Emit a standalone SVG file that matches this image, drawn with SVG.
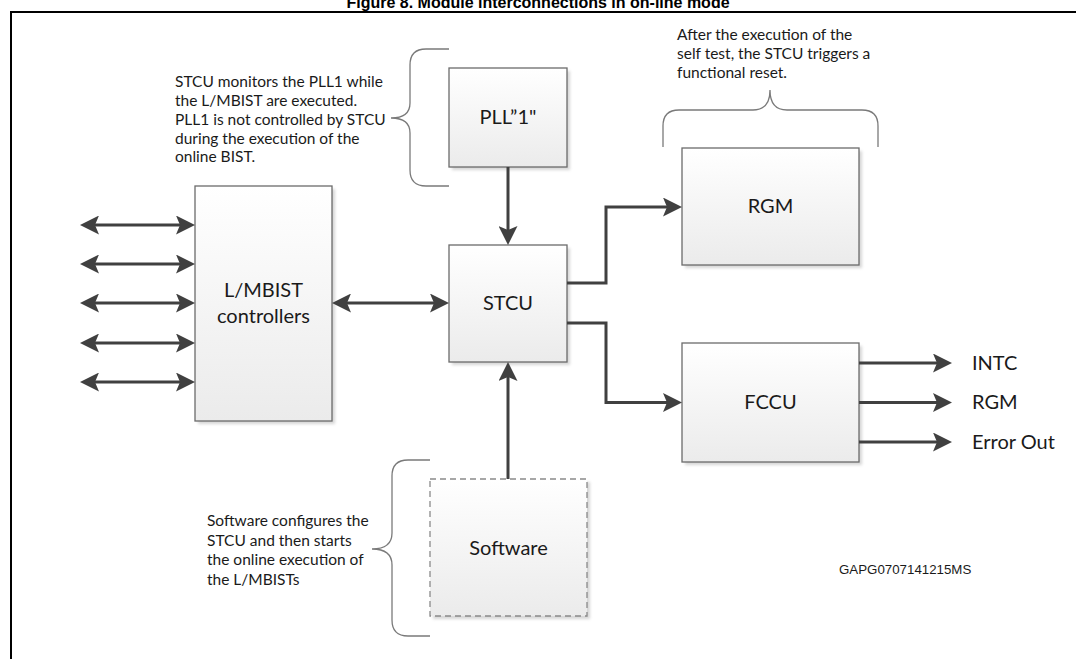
<svg xmlns="http://www.w3.org/2000/svg" width="1076" height="659" viewBox="0 0 1076 659">
  <defs>
    <linearGradient id="boxFill" x1="0" y1="0" x2="0" y2="1">
      <stop offset="0" stop-color="#ffffff"/>
      <stop offset="1" stop-color="#ebebeb"/>
    </linearGradient>
    <filter id="soft" x="-10%" y="-10%" width="130%" height="130%">
      <feGaussianBlur stdDeviation="1.5"/>
    </filter>
    <marker id="ah" markerUnits="userSpaceOnUse" markerWidth="19" markerHeight="19" viewBox="0 0 19 19" refX="15" refY="9.5" orient="auto-start-reverse">
      <path d="M0,0 L19,9.5 L0,19 L4,9.5 Z" fill="#404040"/>
    </marker>
  </defs>
  <style>
    .title { font-family: "Liberation Sans", Arial, sans-serif; font-weight: bold; font-size: 16px; fill: #000; }
    .note { font-family: Lato, "Liberation Sans", sans-serif; font-size: 15.5px; fill: #1a1a1a; }
    .lbl { font-family: Lato, "Liberation Sans", sans-serif; font-size: 20px; fill: #1a1a1a; }
    .mid { text-anchor: middle; }
    .code { font-family: "Liberation Sans", Arial, sans-serif; font-size: 13.3px; fill: #1a1a1a; }
    .box { fill: url(#boxFill); stroke: #6b6b6b; stroke-width: 1.3; }
    .dash { stroke-dasharray: 6 4; stroke: #8a8a8a; }
    .shadow { fill: #d6d6d6; filter: url(#soft); }
    .brace { fill: none; stroke: #7a7a7a; stroke-width: 1.3; }
    .wire { fill: none; stroke: #404040; stroke-width: 3; stroke-linejoin: miter; }
    .one { marker-end: url(#ah); }
    .two { marker-start: url(#ah); marker-end: url(#ah); }
  </style>

  <rect width="1076" height="659" fill="#ffffff"/>

  <!-- figure title and frame -->
  <text class="title mid" x="538" y="8">Figure 8. Module interconnections in on-line mode</text>
  <path d="M11,659 V12 H1076" fill="none" stroke="#000" stroke-width="2"/>

  <!-- annotations -->
  <g id="note-pll">
    <text class="note" x="175" y="87">STCU monitors the PLL1 while</text>
    <text class="note" x="175" y="106">the L/MBIST are executed.</text>
    <text class="note" x="175" y="125">PLL1 is not controlled by STCU</text>
    <text class="note" x="175" y="144">during the execution of the</text>
    <text class="note" x="175" y="162">online BIST.</text>
    <path class="brace" d="M449,49 H426 Q410,49 410,65 V103 Q410,118 391,118 Q410,118 410,133 V170 Q410,186 426,186 H449"/>
  </g>
  <g id="note-rgm">
    <text class="note" x="677" y="40">After the execution of the</text>
    <text class="note" x="677" y="59">self test, the STCU triggers a</text>
    <text class="note" x="677" y="78">functional reset.</text>
    <path class="brace" d="M663,147 V126 Q663,110 679,110 H753 Q770,110 770,90 Q770,110 787,110 H862 Q878,110 878,126 V147"/>
  </g>
  <g id="note-sw">
    <text class="note" x="207" y="526">Software configures the</text>
    <text class="note" x="207" y="546">STCU and then starts</text>
    <text class="note" x="207" y="565">the online execution of</text>
    <text class="note" x="207" y="585">the L/MBISTs</text>
    <path class="brace" d="M430,460 H408 Q392,460 392,476 V533 Q392,549 372,549 Q392,549 392,565 V620 Q392,636 408,636 H430"/>
  </g>

  <!-- blocks -->
  <g id="pll">
    <rect class="shadow" x="452" y="71" width="118" height="99"/>
    <rect class="box" x="449" y="68" width="118" height="99"/>
    <text class="lbl mid" x="508" y="124">PLL”1"</text>
  </g>
  <g id="stcu">
    <rect class="shadow" x="452" y="248" width="118" height="117"/>
    <rect class="box" x="449" y="245" width="118" height="117"/>
    <text class="lbl mid" x="508" y="310">STCU</text>
  </g>
  <g id="lmbist">
    <rect class="shadow" x="198" y="189" width="137" height="235"/>
    <rect class="box" x="195" y="186" width="137" height="235"/>
    <text class="lbl mid" x="263.5" y="297">L/MBIST</text>
    <text class="lbl mid" x="263.5" y="323">controllers</text>
  </g>
  <g id="rgm">
    <rect class="shadow" x="685" y="151" width="177" height="117"/>
    <rect class="box" x="682" y="148" width="177" height="117"/>
    <text class="lbl mid" x="770.5" y="213">RGM</text>
  </g>
  <g id="fccu">
    <rect class="shadow" x="685" y="346" width="177" height="119"/>
    <rect class="box" x="682" y="343" width="177" height="119"/>
    <text class="lbl mid" x="770.5" y="409">FCCU</text>
  </g>
  <g id="software">
    <rect class="shadow" x="433" y="482" width="157" height="137"/>
    <rect class="box dash" x="430" y="479" width="157" height="137"/>
    <text class="lbl mid" x="508.5" y="555">Software</text>
  </g>

  <!-- connectors -->
  <g id="connectors">
    <path class="wire one" d="M508,167 V241"/>
    <path class="wire one" d="M508,479 V366"/>
    <path class="wire one" d="M567,283 H606 V207 H678"/>
    <path class="wire one" d="M567,323 H606 V402.5 H678"/>
    <path class="wire two" d="M336,303 H445"/>
    <path class="wire two" d="M84,225 H191"/>
    <path class="wire two" d="M84,264 H191"/>
    <path class="wire two" d="M84,303 H191"/>
    <path class="wire two" d="M84,343 H191"/>
    <path class="wire two" d="M84,382 H191"/>
    <path class="wire one" d="M859,363 H948"/>
    <path class="wire one" d="M859,402.5 H948"/>
    <path class="wire one" d="M859,442 H948"/>
  </g>

  <!-- output labels -->
  <g id="outputs">
    <text class="lbl" x="972" y="370">INTC</text>
    <text class="lbl" x="972" y="409">RGM</text>
    <text class="lbl" x="972" y="449">Error Out</text>
  </g>

  <text class="code" x="839" y="574">GAPG0707141215MS</text>
</svg>
